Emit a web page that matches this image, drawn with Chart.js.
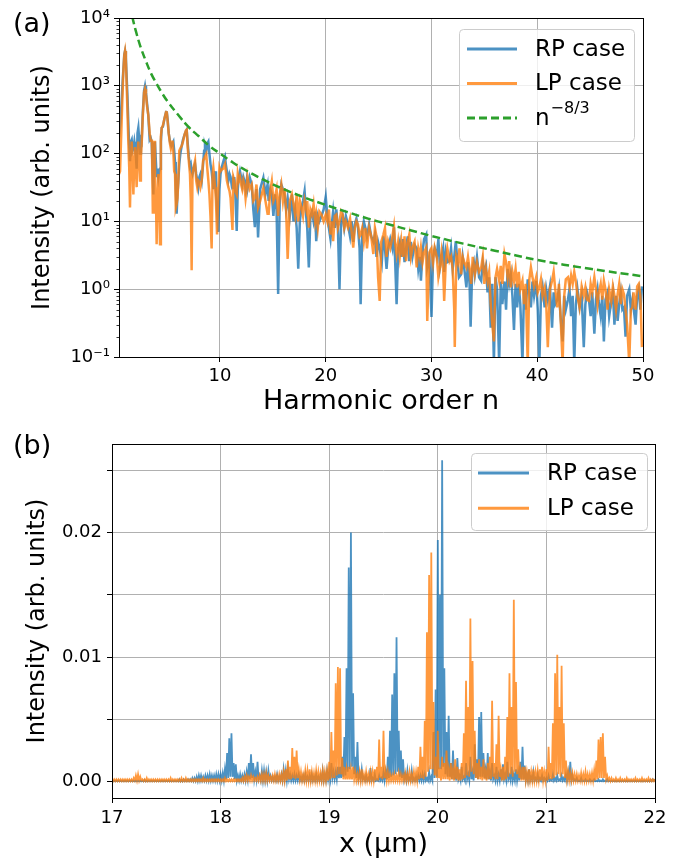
<!DOCTYPE html>
<html>
<head>
<meta charset="utf-8">
<script src="https://cdn.jsdelivr.net/npm/chart.js@4.4.0/dist/chart.umd.min.js"></script>
<style>
  html, body { margin: 0; padding: 0; background: #fff; }
  body { width: 687px; height: 862px; position: relative; overflow: hidden; font-family: "DejaVu Sans", sans-serif; }
  canvas { position: absolute; left: 0; }
  #topChart { top: 0; }
  #botChart { top: 420px; }
  .panel { position: absolute; font-size: 27px; line-height: 1; color: #000; }
</style>
</head>
<body>
<canvas id="topChart" width="687" height="420"></canvas>
<canvas id="botChart" width="687" height="442"></canvas>
<div class="panel" style="left:13px;top:9px">(a)</div>
<div class="panel" style="left:13px;top:431px">(b)</div>
<script>
var FONT = '"DejaVu Sans", sans-serif';
var BLUE = 'rgba(31,119,180,0.8)';
var ORANGE = 'rgba(255,127,14,0.8)';
var GREEN = '#2ca02c';
var GRID = '#b0b0b0';

// ---- (a) harmonic spectrum, [harmonic order n, intensity] ----
var rpSpectrum = [
  [0.45,173],[0.6,300],[0.8,1200],[0.95,2900],[1.02,3250],[1.1,2600],[1.25,700],[1.38,170],[1.49,77],[1.58,150],
  [1.65,160],[1.73,110],[1.81,120],[1.9,150],[1.96,125],[2.05,90],[2.12,60],[2.2,200],[2.28,240],[2.36,160],
  [2.44,100],[2.52,160],[2.59,150],[2.7,400],[2.82,850],[2.91,1000],[3.0,800],[3.1,550],[3.22,370],[3.35,160],
  [3.45,170],[3.54,150],[3.62,60],[3.7,25],[3.78,140],[3.85,150],[3.93,80],[4.01,45],[4.09,60],[4.17,45],
  [4.25,55],[4.33,60],[4.41,150],[4.49,240],[4.6,250],[4.75,330],[4.9,410],[4.96,420],[5.05,320],[5.15,200],
  [5.27,150],[5.4,130],[5.5,140],[5.59,150],[5.67,110],[5.75,75],[5.82,30],[5.9,13],[5.98,25],[6.06,40],
  [6.15,70],[6.25,100],[6.38,130],[6.5,160],[6.65,190],[6.78,215],[6.85,225],[6.95,140],[7.05,90],[7.16,65],
  [7.24,70],[7.32,55],[7.4,50],[7.5,60],[7.64,70],[7.75,50],[7.85,40],[7.95,32],[8.05,45],[8.15,50],
  [8.27,40],[8.4,70],[8.5,110],[8.58,130],[8.7,110],[8.8,140],[8.9,150],[9.0,100],[9.1,70],[9.21,55],
  [9.3,40],[9.37,30],[9.45,45],[9.53,55],[9.62,30],[9.72,15],[9.84,7],[9.95,30],[10.05,50],[10.16,62],
  [10.25,70],[10.35,80],[10.47,90],[10.55,70],[10.65,55],[10.79,40],[10.9,50],[11.0,45],[11.1,35],[11.2,40],
  [11.26,30],[11.35,45],[11.45,25],[11.58,7.2],[11.68,30],[11.78,45],[11.89,55],[12.0,45],[12.1,35],[12.21,45],
  [12.3,40],[12.42,30],[12.52,40],[12.6,30],[12.8,45],[13.0,35],[13.15,15],[13.3,8.2],[13.45,30],[13.6,5.8],
  [13.8,30],[14.1,44],[14.3,25],[14.5,35],[14.6,20],[14.75,30],[14.9,25],[15.05,12],[15.2,25],[15.35,15],
  [15.5,0.85],[15.65,20],[15.8,35],[15.95,30],[16.1,25],[16.25,15],[16.4,22],[16.6,12],[16.8,25],[16.95,10],
  [17.1,15],[17.25,8],[17.4,2.0],[17.55,10],[17.7,16],[17.85,20],[18.0,28],[18.15,12],[18.25,8],[18.4,2.1],
  [18.55,12],[18.7,14],[18.85,10],[19.0,14],[19.1,5.1],[19.25,12],[19.4,10],[19.6,12],[19.8,15],[20.0,23],
  [20.15,12],[20.3,8],[20.45,5.5],[20.6,10],[20.7,14],[20.85,8],[21.0,15],[21.15,8],[21.3,1.0],[21.45,10],
  [21.6,12],[21.75,8],[21.9,12],[22.1,9],[22.3,6],[22.45,10],[22.6,5],[22.75,9],[22.9,11],[23.05,8],
  [23.2,4],[23.3,0.6],[23.45,7],[23.6,10],[23.75,8],[23.9,6],[24.1,9],[24.3,6],[24.5,5],[24.65,6.4],
  [24.8,3],[24.95,5],[25.1,4],[25.3,2.5],[25.45,6],[25.6,4],[25.75,2],[25.9,4],[26.1,5.5],[26.3,4],
  [26.45,8.2],[26.55,3],[26.7,0.6],[26.85,4],[27.0,5],[27.15,3],[27.3,5.5],[27.45,2.5],[27.6,4],[27.75,6],
  [27.9,2.6],[28.05,5],[28.2,3],[28.4,4.5],[28.6,4],[28.75,2],[28.9,3],[29.0,1.33],[29.15,3.5],[29.3,5.5],
  [29.5,6.4],[29.6,2.1],[29.8,3],[30.0,0.39],[30.15,3],[30.3,4],[30.5,3],[30.65,5.5],[30.8,2.1],[30.95,3],
  [31.1,4],[31.2,1.8],[31.35,3.5],[31.5,2.5],[31.7,2.6],[31.85,4],[32.0,2],[32.15,3],[32.3,5.1],[32.45,2.5],
  [32.6,1.5],[32.8,1.66],[32.95,3],[33.1,2],[33.3,1.06],[33.45,2.5],[33.6,1.2],[33.7,0.28],[33.85,2],[34.0,2.5],
  [34.1,1.66],[34.3,3],[34.5,1.5],[34.7,1.33],[34.85,2.5],[35.0,1.8],[35.15,2.2],[35.3,0.9],[35.45,1.5],[35.6,0.27],
  [35.75,1.2],[35.9,0.08],[36.05,1.5],[36.2,1.0],[36.4,0.08],[36.55,1.3],[36.7,0.6],[36.9,1.3],[37.05,0.5],[37.2,2],
  [37.35,1.2],[37.5,1.66],[37.65,0.8],[37.8,0.25],[37.95,1.2],[38.1,0.54],[38.25,1.2],[38.4,0.6],[38.6,0.08],[38.75,1.0],
  [38.9,0.5],[39.1,1.4],[39.25,0.9],[39.4,0.54],[39.55,1.3],[39.7,0.8],[39.9,1.33],[40.05,0.5],[40.2,0.08],[40.35,0.8],
  [40.5,1.1],[40.7,0.54],[40.85,1.0],[41.0,0.7],[41.2,1.1],[41.4,0.27],[41.55,0.9],[41.7,0.6],[41.9,0.7],[42.05,1.0],
  [42.2,0.4],[42.4,0.17],[42.55,0.8],[42.7,0.5],[42.9,0.7],[43.05,1.0],[43.2,0.4],[43.35,0.8],[43.5,0.08],[43.65,0.6],
  [43.8,1.0],[44.0,0.54],[44.2,0.8],[44.4,0.14],[44.55,0.6],[44.7,0.9],[44.9,0.67],[45.05,0.4],[45.2,0.9],[45.4,0.22],
  [45.55,0.7],[45.7,1.0],[45.8,0.67],[46.0,0.4],[46.15,0.8],[46.3,0.17],[46.45,0.7],[46.65,0.9],[46.8,0.4],[47.0,0.67],
  [47.15,0.9],[47.3,0.3],[47.45,0.8],[47.6,0.34],[47.75,0.6],[47.9,0.9],[48.05,0.5],[48.2,0.54],[48.35,0.2],[48.5,0.8],
  [48.7,1.0],[48.85,0.5],[49.0,0.7],[49.1,0.54],[49.3,0.3],[49.45,0.8],[49.6,1.0],[49.75,0.5],[49.9,1.1]
];

var lpSpectrum = [
  [0.45,50],[0.55,55],[0.7,300],[0.85,1500],[0.95,2800],[1.02,3250],[1.1,2400],[1.22,600],[1.33,155],[1.42,60],
  [1.49,16],[1.57,80],[1.65,150],[1.73,70],[1.81,25],[1.9,90],[1.96,125],[2.05,60],[2.12,32],[2.2,100],
  [2.28,150],[2.36,80],[2.44,40],[2.52,90],[2.59,135],[2.7,350],[2.82,800],[2.91,900],[3.0,750],[3.1,500],
  [3.22,370],[3.35,200],[3.45,155],[3.56,155],[3.65,13],[3.72,80],[3.78,155],[3.85,13],[3.95,20],[4.01,4.6],
  [4.09,30],[4.17,50],[4.25,20],[4.33,4.6],[4.41,180],[4.49,240],[4.6,260],[4.75,330],[4.9,410],[4.96,420],
  [5.05,300],[5.15,200],[5.27,140],[5.35,120],[5.45,150],[5.52,150],[5.59,105],[5.67,55],[5.75,50],[5.82,16],
  [5.9,18],[5.98,22],[6.06,40],[6.15,110],[6.25,120],[6.38,130],[6.5,150],[6.65,190],[6.78,220],[6.85,225],
  [6.95,120],[7.05,78],[7.16,50],[7.24,20],[7.32,1.9],[7.4,50],[7.5,62],[7.64,78],[7.75,40],[7.85,32],
  [7.95,40],[8.05,38],[8.15,32],[8.27,40],[8.4,78],[8.5,85],[8.58,90],[8.7,98],[8.8,60],[8.9,40],
  [9.0,25],[9.1,12],[9.21,4],[9.3,50],[9.37,62],[9.45,45],[9.53,32],[9.62,20],[9.72,6.4],[9.84,30],
  [9.95,62],[10.05,55],[10.16,58],[10.3,60],[10.47,70],[10.55,55],[10.65,40],[10.79,32],[10.9,28],[11.0,22],
  [11.1,12],[11.18,7.5],[11.26,45],[11.35,40],[11.45,28],[11.58,25],[11.68,50],[11.78,40],[11.89,45],[12.0,35],
  [12.1,30],[12.21,40],[12.3,35],[12.42,22],[12.52,30],[12.6,45],[12.8,30],[13.0,35],[13.15,20],[13.3,22],
  [13.45,35],[13.6,16],[13.8,20],[14.1,31],[14.3,20],[14.5,13],[14.6,13],[14.75,28],[14.9,39],[15.05,20],
  [15.2,23],[15.35,30],[15.5,12],[15.65,25],[15.8,35],[15.95,20],[16.1,31],[16.25,15],[16.4,2.8],[16.6,20],
  [16.8,25],[16.95,18],[17.1,12.6],[17.25,25],[17.4,10],[17.55,20],[17.7,16],[17.85,12],[18.0,20],[18.15,15],
  [18.25,20],[18.4,8.1],[18.55,15],[18.7,12.6],[18.85,18],[19.0,10],[19.1,13],[19.25,8],[19.4,14],[19.6,12.6],
  [19.8,10],[20.0,12.6],[20.15,10],[20.3,15],[20.45,6.4],[20.6,10],[20.7,5.1],[20.85,12],[21.0,12.6],[21.15,8],
  [21.3,10],[21.45,14],[21.6,12.6],[21.75,8],[21.9,10],[22.1,8.1],[22.3,11],[22.45,7],[22.6,4.1],[22.75,8],
  [22.9,10],[23.05,9],[23.2,6],[23.3,6.4],[23.45,8],[23.6,5],[23.75,8],[23.9,4],[24.1,8.1],[24.3,6],
  [24.5,3.3],[24.65,8],[24.8,6],[24.95,1.5],[25.1,0.67],[25.25,5],[25.45,6.4],[25.6,8],[25.75,3],[25.9,5.1],
  [26.1,4],[26.3,6],[26.45,8.5],[26.55,5],[26.7,3.3],[26.85,5],[27.0,3],[27.15,5.1],[27.3,3],[27.45,6],
  [27.6,2.6],[27.75,5],[27.9,6.4],[28.05,3],[28.2,4.1],[28.4,5],[28.6,2.1],[28.75,4],[28.9,3],[29.0,4.1],
  [29.15,2.5],[29.3,3.5],[29.5,4.1],[29.6,0.34],[29.8,3.5],[30.0,4],[30.15,2.5],[30.3,4.1],[30.5,3],[30.65,1.5],
  [30.8,2.1],[30.95,3.5],[31.1,2],[31.2,0.67],[31.35,2.5],[31.5,4],[31.7,2.6],[31.85,3],[32.0,2],[32.15,0.5],
  [32.2,0.14],[32.35,3],[32.5,2.5],[32.65,4],[32.8,1.66],[32.95,3],[33.1,2.5],[33.3,2.1],[33.45,3],[33.6,2],
  [33.75,1.2],[33.9,3],[34.1,1.66],[34.3,2.5],[34.5,1.8],[34.7,2.1],[34.85,3],[35.0,1.2],[35.15,2],[35.3,1.33],
  [35.45,1.8],[35.6,0.6],[35.75,0.3],[35.9,0.17],[36.05,1.5],[36.2,2],[36.4,1.33],[36.55,2.2],[36.7,1.2],[36.9,3.3],
  [37.05,2.5],[37.2,1.5],[37.35,2.6],[37.5,1.06],[37.65,1.8],[37.8,1.33],[37.95,2],[38.1,1.06],[38.25,1.8],[38.4,1.0],
  [38.6,1.33],[38.75,0.6],[38.9,1.2],[39.1,0.08],[39.25,1.4],[39.4,2.1],[39.55,1.5],[39.7,1.1],[39.9,1.5],[40.05,0.9],
  [40.2,1.06],[40.35,1.4],[40.5,0.8],[40.7,1.06],[40.85,0.6],[41.0,0.14],[41.2,1.0],[41.4,1.33],[41.55,1.8],[41.7,1.0],
  [41.9,0.54],[42.05,1.2],[42.2,0.4],[42.4,0.08],[42.55,0.8],[42.7,1.4],[42.9,1.5],[43.05,1.1],[43.2,1.6],[43.35,1.2],
  [43.5,1.8],[43.65,1.3],[43.8,0.8],[44.0,0.54],[44.2,1.1],[44.4,0.8],[44.55,1.06],[44.7,0.7],[44.9,0.67],[45.05,1.2],
  [45.2,0.9],[45.4,1.5],[45.55,1.0],[45.7,0.6],[45.8,0.84],[46.0,1.2],[46.15,0.7],[46.3,1.33],[46.45,1.0],[46.65,0.5],
  [46.8,1.0],[47.0,0.67],[47.15,1.1],[47.3,0.8],[47.45,0.5],[47.6,0.84],[47.75,1.2],[47.9,0.6],[48.05,1.0],[48.2,0.84],
  [48.35,0.5],[48.5,0.3],[48.7,0.08],[48.85,0.5],[49.0,0.54],[49.1,0.9],[49.3,0.5],[49.45,1.1],[49.6,1.2],[49.75,0.8],
  [49.9,0.14]
];

// dashed reference curve
var powerLaw = [
  [1.7,10500],[2.0,6800],[2.5,3700],[3.0,2300],[3.5,1500],[4.0,1080],[4.5,790],[5.0,600],[6.0,380],[7.0,250],
  [8.0,180],[9.0,130],[10.0,100],[11.0,78],[12.0,62],[14.0,42],[16.0,30],[18.0,22.5],[20.0,17.5],[22.0,13.8],
  [24.0,11],[26.0,9.0],[28.0,7.4],[30.0,6.1],[33.0,4.7],[36.0,3.7],[40.0,2.7],[45.0,2.0],[50.0,1.55]
];

var harmonicTicks = [10, 20, 30, 40, 50];
var decadeTicks = [0.1, 1, 10, 100, 1000, 10000];
var decadeLabels = ['10\u207B\u00B9', '10\u2070', '10\u00B9', '10\u00B2', '10\u00B3', '10\u2074'];

// ---- (b) spatial profile, sampled every 0.01 um from 17 um, values in 1e-4 ----
var X_START = 17, X_STEP = 0.01, UNIT = 1e-4;
var rpProfile = [
  1,0.3,1,0.3,1,0.3,1,0.3,1,0.3,1,0.3,1,0.3,1,0.3,1,0.3,1,0.3,          // 17.0
  1,0.3,1,0.3,1,0.3,1,0.3,1,0.3,1.5,0.3,1,0.3,1,0.3,1,0.3,1,0.3,        // 17.2
  1,0.3,1,0.3,1,0.3,1,0.3,1,0.3,1,0.3,1,0.3,1,0.3,1,0.3,1,0.3,          // 17.4
  1,0.3,2,0.3,1.5,0.3,2,0.5,1.5,0.5,2,0.5,2,0.5,3,0.5,3,0.5,4,0.5,      // 17.6
  5,1,5,1,4,1,5,1,5,1,6,1,5,1,5,1,6,1,6,1,                              // 17.8
  6,1,7,1,10,2,23,3,35,4,39,4,15,2,14,1,5,1,6,1,                        // 18.0
  5,1,6,1,8,2,15,2,22,3,15,2,8,2,16,2,5,1,9,1,                          // 18.2
  9,1,8,1,9,2,5,1,4,1,4,1,6,1,4,1,6,1,10,2,                             // 18.4
  9,1,10,2,6,1,5,1,6,1,5,1,6,1,4,1,5,1,6,1,                             // 18.6
  4,1,5,1,6,1,4,1,6,1,4,1,5,1,9,1,6,1,9,2,                              // 18.8
  8,2,15,3,8,2,8,2,12,3,12,3,20,4,36,5,91,8,172,10,                     // 19.0
  200,12,71,6,20,3,32,3,7,2,10,2,4,1,5,1,3,1,11,1,                      // 19.2
  3,1,6,1,2,1,5,1,3,1,8,1,8,2,20,3,41,4,70,5,                           // 19.4
  87,6,116,8,41,4,25,3,18,2,6,1,9,1,3,1,9,1,3,1,                        // 19.6
  4,1,5,1,5,1,6,1,6,1,3,1,8,1,4,1,40,3,74,4,                            // 19.8
  194,10,150,10,258,12,91,6,40,4,53,4,15,2,25,2,8,1,19,2,               // 20.0
  5,1,12,2,4,1,15,2,6,1,20,2,8,1,30,3,18,2,52,4,                        // 20.2
  56,4,23,3,10,2,23,2,8,1,15,2,5,1,12,1,6,1,10,1,                       // 20.4
  14,2,6,1,16,2,5,1,12,1,6,1,10,1,8,1,16,2,28,2,                        // 20.6
  13,1,6,1,10,1,4,1,8,1,3,1,6,1,3,1,5,1,3,1,                            // 20.8
  3,1,5,1,2,1,6,1,3,1,5,1,2,1,5,1,3,1,6,1,                              // 21.0
  8,1,16,1,5,1,2,1,3,0.5,1,0.5,3,0.5,1,0.5,2,0.5,1,0.5,                 // 21.2
  2,0.5,1,0.5,2,0.5,1,0.5,2,0.5,1,0.5,2,0.5,1,0.5,2,0.5,1,0.5,          // 21.4
  1,0.3,1,0.3,1,0.3,1,0.3,1,0.3,1,0.3,1,0.3,1,0.3,1,0.3,1,0.3,          // 21.6
  1,0.3,1,0.3,1,0.3,1,0.3,1,0.3,1,0.3,1,0.3,1,0.3,1.5,0.5,2,1,          // 21.8
  2
];
var lpProfile = [
  2,0.5,2,0.5,2,0.5,2,0.5,2,0.5,2,0.5,2,0.5,2,0.5,2,0.5,2,0.5,          // 17.0
  3,1,5,1,6,1,4,1,2,0.5,2,0.5,3,0.5,2,0.5,2,0.5,2,0.5,                  // 17.2
  2,0.5,2,0.5,2,0.5,2,0.5,2,0.5,2,0.5,2,0.5,3,0.5,2,0.5,2,0.5,          // 17.4
  2,0.5,2,0.5,3,0.5,2,0.5,3,0.5,2,0.5,2,0.5,2,0.5,2,0.5,2,0.5,          // 17.6
  2,0.5,2,0.5,3,0.5,2,0.5,2,0.5,2,0.5,2,0.5,2,0.5,2,0.5,2,0.5,          // 17.8
  2,0.5,2,0.5,3,0.5,2,0.5,2,0.5,2,0.5,2,0.5,2,0.5,2,0.5,2,0.5,          // 18.0
  3,0.5,4,1,5,1,4,1,5,1,4,1,3,1,4,1,5,1,6,1,                            // 18.2
  6,1,7,1,5,1,4,1,5,1,6,1,5,1,6,1,6,1,8,1,                              // 18.4
  10,1,17,2,12,2,27,3,20,2,25,3,10,2,8,1,6,1,9,1,                       // 18.6
  9,1,10,1,8,1,7,1,9,1,8,1,7,1,9,1,8,1,9,1,                             // 18.8
  16,2,40,3,25,3,79,5,92,6,91,6,19,2,12,2,10,2,12,2,                    // 19.0
  10,2,12,2,8,1,6,1,8,1,10,1,6,1,8,1,6,1,8,1,                           // 19.2
  8,1,10,1,12,1,34,3,12,2,41,3,9,1,8,1,6,1,5,1,                         // 19.4
  6,1,5,1,7,1,6,1,5,1,7,1,6,1,8,1,6,1,8,1,                              // 19.6
  8,1,12,2,28,3,20,2,49,4,120,8,166,10,184,10,64,5,20,3,                // 19.8
  41,3,8,1,20,2,15,2,25,2,10,1,15,2,10,1,18,2,12,1,                     // 20.0
  10,1,15,2,39,3,81,5,60,4,131,8,97,6,41,3,15,2,18,2,                   // 20.2
  12,1,18,2,8,1,15,2,20,2,65,4,15,2,30,2,53,4,10,1,                     // 20.4
  12,1,20,2,52,4,87,6,60,4,146,8,80,6,26,3,10,1,12,1,                   // 20.6
  12,1,8,1,10,1,8,1,10,1,8,1,9,1,10,1,12,1,8,1,                         // 20.8
  10,1,28,2,15,2,47,3,87,5,102,6,60,4,93,6,47,3,17,2,                   // 21.0
  8,1,7,1,7,1,6,1,6,1,5,1,7,1,6,1,8,1,6,1,                              // 21.2
  6,1,7,1,9,1,17,2,34,3,36,3,39,3,20,2,5,1,3,0.5,                       // 21.4
  3,0.5,2,0.5,3,0.5,2,0.5,3,0.5,2,0.5,2,0.5,3,0.5,2,0.5,2,0.5,          // 21.6
  2,0.5,3,0.5,2,0.5,2,0.5,3,0.5,2,0.5,2,0.5,3,0.5,2,0.5,2,0.5,          // 21.8
  2
];
var positionTicks = [17, 18, 19, 20, 21, 22];
var intensityTicks = [0, 0.005, 0.01, 0.015, 0.02, 0.025];
var intensityLabels = ['0.00', '', '0.01', '', '0.02', ''];

// ---- helpers ----
function pairs(arr) { return arr.map(function (p) { return { x: p[0], y: p[1] }; }); }
function sampled(arr) {
  return arr.map(function (v, i) { return { x: X_START + i * X_STEP, y: v * UNIT }; });
}
function setTicks(values) {
  return function (s) { s.ticks = values.map(function (v) { return { value: v }; }); };
}
function fixSize(prop, px) { return function (s) { s[prop] = px; }; }

function roundRect(c, x, y, w, h, r) {
  c.beginPath();
  c.moveTo(x + r, y); c.lineTo(x + w - r, y); c.quadraticCurveTo(x + w, y, x + w, y + r);
  c.lineTo(x + w, y + h - r); c.quadraticCurveTo(x + w, y + h, x + w - r, y + h);
  c.lineTo(x + r, y + h); c.quadraticCurveTo(x, y + h, x, y + h - r);
  c.lineTo(x, y + r); c.quadraticCurveTo(x, y, x + r, y);
  c.closePath();
}

var framePlugin = {
  id: 'frame',
  afterDatasetsDraw: function (chart) {
    var a = chart.chartArea, c = chart.ctx;
    c.save();
    c.strokeStyle = '#000'; c.lineWidth = 1;
    c.strokeRect(Math.round(a.left) + 0.5, Math.round(a.top) + 0.5,
      Math.round(a.right - a.left), Math.round(a.bottom - a.top));
    c.restore();
  }
};

var minorLogTicks = {
  id: 'minorLogTicks',
  afterDraw: function (chart) {
    var s = chart.scales.y, c = chart.ctx, left = chart.chartArea.left;
    c.save();
    c.strokeStyle = '#000'; c.lineWidth = 0.8;
    for (var e = -1; e < 4; e++) {
      for (var k = 2; k < 10; k++) {
        var y = Math.round(s.getPixelForValue(k * Math.pow(10, e))) + 0.5;
        c.beginPath(); c.moveTo(left - 2.5, y); c.lineTo(left, y); c.stroke();
      }
    }
    c.restore();
  }
};

function boxLegend(items, o) {
  return {
    id: 'boxLegend',
    afterDraw: function (chart) {
      var a = chart.chartArea, c = chart.ctx;
      var x = a.right - o.right - o.width, y = a.top + o.top;
      c.save();
      roundRect(c, x + 0.5, y + 0.5, o.width, o.height, 4);
      c.fillStyle = 'rgba(255,255,255,0.8)'; c.fill();
      c.strokeStyle = '#cccccc'; c.lineWidth = 1; c.stroke();
      items.forEach(function (it, i) {
        var cy = y + o.first + i * o.rowH;
        c.beginPath();
        c.strokeStyle = it.color; c.lineWidth = it.width;
        c.setLineDash(it.dash || []);
        c.moveTo(x + o.lineX, cy); c.lineTo(x + o.lineX + o.lineLen, cy);
        c.stroke();
        c.setLineDash([]);
        c.fillStyle = '#000'; c.textBaseline = 'middle'; c.textAlign = 'left';
        c.font = o.size + 'px ' + FONT;
        c.fillText(it.label, x + o.textX, cy + 1);
        if (it.sup) {
          var w = c.measureText(it.label).width;
          c.font = Math.round(o.size * 0.7) + 'px ' + FONT;
          c.fillText(it.sup, x + o.textX + w + 1, cy - o.size * 0.38);
        }
      });
      c.restore();
    }
  };
}

function axisStyle(extra) {
  var base = {
    border: { display: false },
    grid: { color: GRID, lineWidth: 1, tickColor: '#000', tickLength: 5 },
    ticks: { font: { family: FONT, size: 18 }, color: '#000', padding: 4, autoSkip: false, maxRotation: 0 }
  };
  for (var k in extra) base[k] = extra[k];
  return base;
}

// ---- (a) ----
new Chart(document.getElementById('topChart'), {
  type: 'line',
  data: {
    datasets: [
      { label: 'RP case', data: pairs(rpSpectrum), borderColor: BLUE, borderWidth: 2.5, order: 3 },
      { label: 'LP case', data: pairs(lpSpectrum), borderColor: ORANGE, borderWidth: 2.5, order: 2 },
      { label: 'n-8/3', data: pairs(powerLaw), borderColor: GREEN, borderWidth: 2.5, borderDash: [8, 4],
        tension: 0.4, order: 1 }
    ]
  },
  options: {
    responsive: false, devicePixelRatio: 1, animation: false,
    elements: { point: { radius: 0 }, line: { tension: 0, fill: false } },
    layout: { padding: { top: 18, right: 44, left: 0, bottom: 0 } },
    plugins: { legend: { display: false }, tooltip: { enabled: false } },
    scales: {
      x: axisStyle({
        type: 'linear', min: 0.45, max: 50,
        afterBuildTicks: setTicks(harmonicTicks),
        afterFit: fixSize('height', 63),
        title: { display: true, text: 'Harmonic order n', color: '#000',
          font: { family: FONT, size: 27 }, padding: { top: 0, bottom: 2 } }
      }),
      y: axisStyle({
        type: 'logarithmic', min: 0.1, max: 10000,
        afterBuildTicks: setTicks(decadeTicks),
        afterFit: fixSize('width', 119),
        title: { display: true, text: 'Intensity (arb. units)', color: '#000',
          font: { family: FONT, size: 24 }, padding: { top: 28, bottom: 0 } }
      })
    }
  },
  plugins: [framePlugin, minorLogTicks, boxLegend([
    { label: 'RP case', color: BLUE, width: 3 },
    { label: 'LP case', color: ORANGE, width: 3 },
    { label: 'n', sup: '\u22128/3', color: GREEN, width: 3, dash: [8, 4] }
  ], { right: 9, top: 11, width: 175, height: 112, first: 20, rowH: 34.5, lineX: 8, lineLen: 50, textX: 76, size: 23 })]
});
Chart.getChart('topChart').options.scales.y.ticks.callback = function (v, i) { return decadeLabels[i]; };
Chart.getChart('topChart').update('none');

// ---- (b) ----
new Chart(document.getElementById('botChart'), {
  type: 'line',
  data: {
    datasets: [
      { label: 'RP case', data: sampled(rpProfile), borderColor: BLUE, borderWidth: 1.8, order: 2 },
      { label: 'LP case', data: sampled(lpProfile), borderColor: ORANGE, borderWidth: 1.8, order: 1 }
    ]
  },
  options: {
    responsive: false, devicePixelRatio: 1, animation: false,
    elements: { point: { radius: 0 }, line: { tension: 0, fill: false } },
    layout: { padding: { top: 24, right: 32, left: 0, bottom: 0 } },
    plugins: { legend: { display: false }, tooltip: { enabled: false } },
    scales: {
      x: axisStyle({
        type: 'linear', min: 17, max: 22,
        afterBuildTicks: setTicks(positionTicks),
        afterFit: fixSize('height', 64),
        title: { display: true, text: 'x (\u03BCm)', color: '#000',
          font: { family: FONT, size: 27 }, padding: { top: 0, bottom: 1 } }
      }),
      y: axisStyle({
        type: 'linear', min: -0.0013, max: 0.0271,
        afterBuildTicks: setTicks(intensityTicks),
        afterFit: fixSize('width', 112),
        title: { display: true, text: 'Intensity (arb. units)', color: '#000',
          font: { family: FONT, size: 24 }, padding: { top: 23, bottom: 0 } }
      })
    }
  },
  plugins: [framePlugin, boxLegend([
    { label: 'RP case', color: BLUE, width: 3 },
    { label: 'LP case', color: ORANGE, width: 3 }
  ], { right: 8, top: 9, width: 176, height: 77, first: 20, rowH: 35.3, lineX: 7, lineLen: 51, textX: 76, size: 23 })]
});
var bot = Chart.getChart('botChart');
bot.options.scales.y.ticks.callback = function (v, i) { return intensityLabels[i]; };
bot.options.scales.y.ticks.padding = 5;
bot.options.scales.x.ticks.padding = 5;
bot.update('none');
</script>
</body>
</html>
